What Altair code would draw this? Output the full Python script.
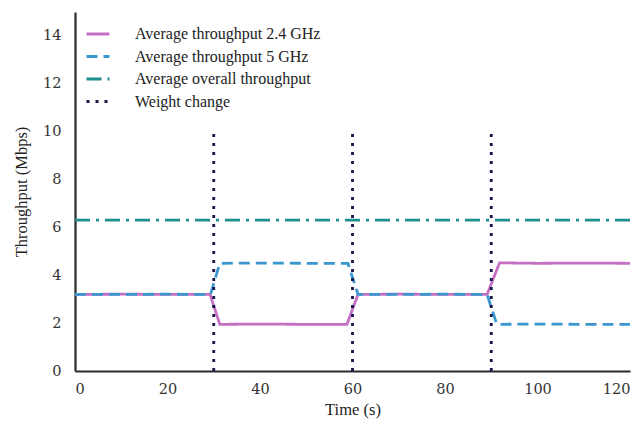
import altair as alt
import pandas as pd

# Series data (time in s, throughput in Mbps)
t_24 = [0, 10, 20, 29.2, 31.3, 40, 50, 58.8, 61.2, 70, 80, 89.1, 91.8, 100, 110, 120]
v_24 = [3.2, 3.21, 3.2, 3.2, 1.95, 1.96, 1.95, 1.95, 3.2, 3.21, 3.2, 3.2, 4.52, 4.5, 4.51, 4.5]
t_5 = [0, 10, 20, 29.3, 31.3, 40, 50, 59.0, 61.2, 70, 80, 89.1, 91.2, 100, 110, 120]
v_5 = [3.2, 3.2, 3.21, 3.2, 4.5, 4.51, 4.5, 4.5, 3.2, 3.2, 3.21, 3.2, 1.95, 1.96, 1.95, 1.95]
t_all = [0, 120]
v_all = [6.3, 6.3]
change_times = [30, 60, 90]
change_range = [0, 10]

names = ["Average throughput 2.4 GHz", "Average throughput 5 GHz",
         "Average overall throughput", "Weight change"]
colors = ["#c56fc4", "#3a97cf", "#1f8f8c", "#16164a"]
dashes = [[1, 0], [11, 6], [15, 6, 3, 6], [3, 6]]

rows = []
def add(series, seg, ts, vs):
    for i, (t, v) in enumerate(zip(ts, vs)):
        rows.append({"series": series, "seg": seg, "idx": i, "t": t, "v": v})

add(names[0], "a", t_24, v_24)
add(names[1], "b", t_5, v_5)
add(names[2], "c", t_all, v_all)
for ct in change_times:
    add(names[3], f"w{ct}", [ct, ct], change_range)

df = pd.DataFrame(rows)

font = "Liberation Serif"
tick_font = "DejaVu Serif"

def make_legend():
    return alt.Legend(title=None, orient="none", legendX=10, legendY=9,
                      symbolType="stroke", symbolSize=529,
                      symbolStrokeWidth=3, labelFont=font,
                      labelFontSize=16, labelColor="#222", labelLimit=400,
                      labelOffset=24, rowPadding=1.5)

chart = alt.Chart(df).mark_line(strokeWidth=2.8, strokeCap="butt").encode(
    x=alt.X("t:Q", scale=alt.Scale(domain=[0, 120], nice=False),
            axis=alt.Axis(title="Time (s)", values=[0, 20, 40, 60, 80, 100, 120],
                          grid=False, ticks=False, labelPadding=11, titlePadding=6,
                          labelFont=tick_font, titleFont=font)),
    y=alt.Y("v:Q", scale=alt.Scale(domain=[0, 15], nice=False),
            axis=alt.Axis(title="Throughput (Mbps)", values=[0, 2, 4, 6, 8, 10, 12, 14],
                          grid=False, ticks=False, labelPadding=14, titlePadding=13,
                          labelFont=tick_font, titleFont=font)),
    color=alt.Color("series:N", scale=alt.Scale(domain=names, range=colors),
                    legend=make_legend()),
    strokeDash=alt.StrokeDash("series:N", scale=alt.Scale(domain=names, range=dashes),
                              legend=make_legend()),
    detail="seg:N",
    order="idx:Q",
).properties(
    width=555, height=359,
    background="white",
    autosize=alt.AutoSizeParams(type="none"),
    padding={"left": 67, "top": 4, "right": 6, "bottom": 48},
).configure_view(stroke=None).configure_axis(
    domainColor="#2b2b2b", domainWidth=2.2,
    labelFont=tick_font, labelFontSize=14.5, labelColor="#333",
    titleFont=font, titleFontSize=16.5, titleFontWeight="normal", titleColor="#222",
)

chart.save("out.html", embed_options={"renderer": "svg", "actions": False})
